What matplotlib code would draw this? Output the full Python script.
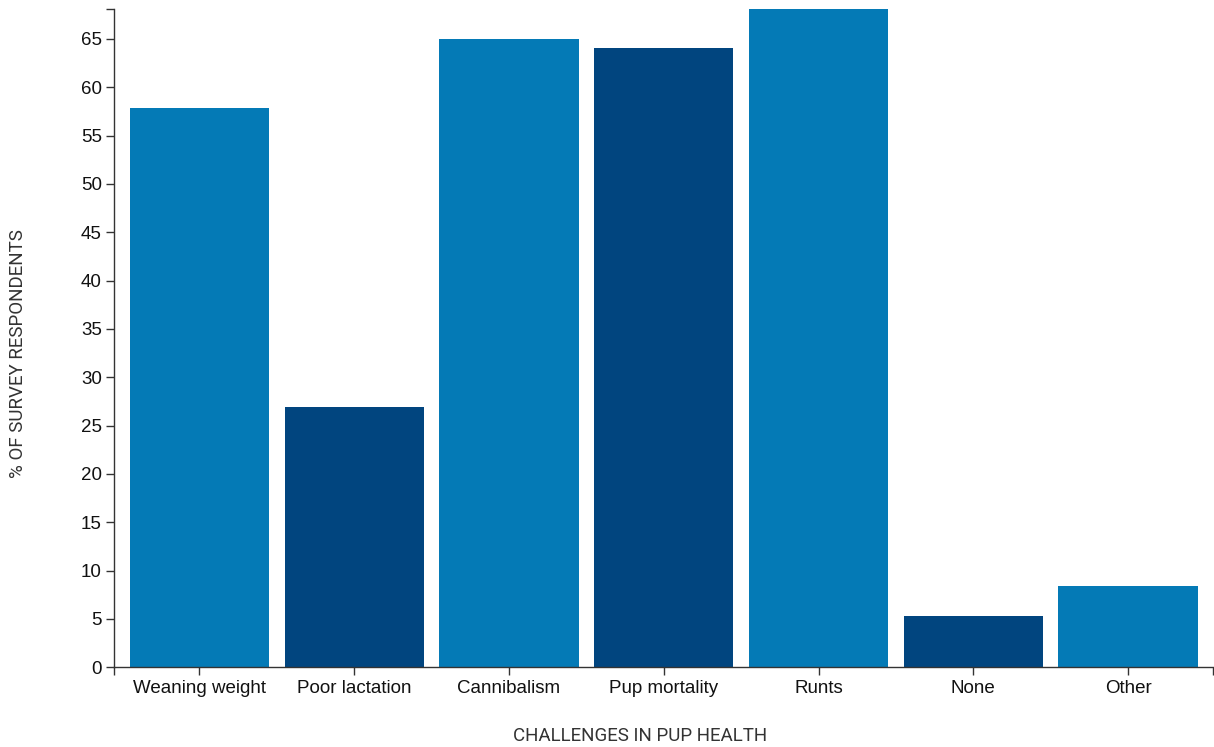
import matplotlib.pyplot as plt

categories = ["Weaning weight", "Poor lactation", "Cannibalism", "Pup mortality",
              "Runts", "None", "Other"]
values = [57.9, 26.9, 65.0, 64.1, 68.1, 5.3, 8.4]
bar_colors = ["#047AB6", "#01457F", "#047AB6", "#01457F", "#047AB6", "#01457F", "#047AB6"]
y_ticks = list(range(0, 70, 5))

plt.rcParams["font.family"] = ["Liberation Sans", "DejaVu Sans"]

fig = plt.figure(figsize=(12.14, 7.47), dpi=100)
ax = fig.add_axes([0.0942, 0.1067, 0.9052, 0.8813])

x = list(range(len(categories)))
ax.bar(x, values, width=0.9, color=bar_colors)

ax.set_xlim(-0.55, len(categories) - 0.45)
ax.set_ylim(0, max(values))
ax.set_xticks(x)
ax.set_xticklabels(categories, fontsize=13.5, color="#111111")
ax.set_yticks(y_ticks)
ax.set_yticklabels([str(t) for t in y_ticks], fontsize=13.5, color="#111111")

# outer ticks at the ends of each axis line
ax.set_xticks([-0.55, len(categories) - 0.45], minor=True)
ax.set_yticks([max(values)], minor=True)
ax.tick_params(axis="both", which="both", length=6, width=1, color="#333333")
ax.tick_params(axis="x", which="major", pad=3)
ax.tick_params(axis="y", which="major", pad=3)

for side in ["top", "right"]:
    ax.spines[side].set_visible(False)
for side in ["left", "bottom"]:
    ax.spines[side].set_color("#333333")
    ax.spines[side].set_linewidth(1)

label_font = ["Roboto", "DejaVu Sans"]
fig.text(640 / 1214, 1 - 736 / 747, "CHALLENGES IN PUP HEALTH", ha="center", va="center",
         fontsize=13.5, color="#333333", family=label_font)
fig.text(18 / 1214, 1 - 354 / 747, "% OF SURVEY RESPONDENTS", ha="center", va="center",
         rotation=90, fontsize=13.5, color="#333333", family=label_font)

fig.savefig("out.png", dpi=100)
